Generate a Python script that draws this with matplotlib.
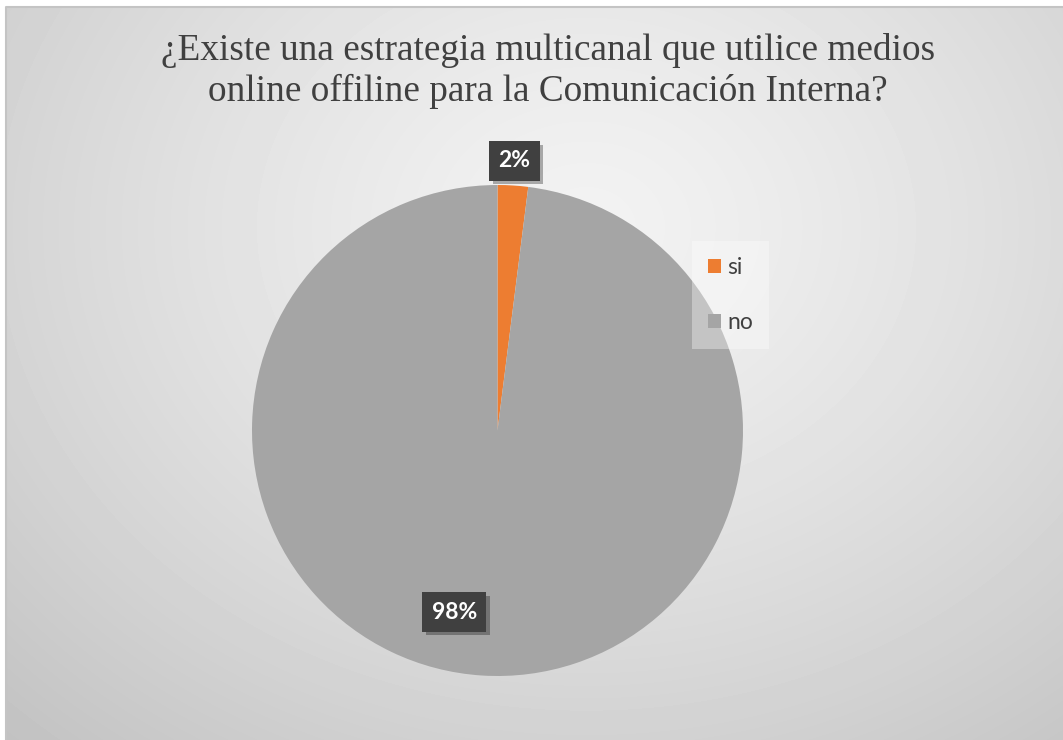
import numpy as np
import matplotlib.pyplot as plt
import matplotlib.patheffects as pe
from matplotlib.patches import Patch

# Survey answers
labels = ['si', 'no']
values = [2, 98]
colors = ['#ED7D31', '#A5A5A5']
title = '¿Existe una estrategia multicanal que utilice medios\nonline offiline para la Comunicación Interna?'

W, H = 1063, 740
fig = plt.figure(figsize=(W / 100, H / 100), dpi=100)
fig.patch.set_facecolor('white')

# Radial grey gradient behind the chart
bg = fig.add_axes([6 / W, 0, 1 - 6 / W, 1 - 7 / H])
yy, xx = np.mgrid[0:733, 0:1057]
d = np.sqrt(((xx - 580) / 780) ** 2 + ((yy - 220) / 640) ** 2)
shade = np.clip(0.95 - 0.17 * d ** 1.3, 0, 1)
bg.imshow(shade, cmap='gray', vmin=0, vmax=1, aspect='auto', interpolation='bilinear')
bg.axis('off')

# Thin frame edge
edge = fig.add_axes([0, 0, 1, 1], facecolor='none')
edge.axis('off')
edge.plot([6 / W, 6 / W, 1], [0, 1 - 7 / H, 1 - 7 / H], color='#c4c4c4', lw=1.5,
          transform=edge.transAxes)

fig.text(548 / W, 1 - 71 / H, title, ha='center', va='center', family='Liberation Serif',
         fontsize=26.8, color='#404040', linespacing=1.22)

# Pie
cx, cy, r = 497.5, 430.5, 245.5
ax = fig.add_axes([(cx - r) / W, (H - cy - r) / H, 2 * r / W, 2 * r / H])
wedges, _ = ax.pie(values, colors=colors, startangle=90, counterclock=False,
                   radius=1, wedgeprops=dict(linewidth=0))
ax.set_xlim(-1, 1)
ax.set_ylim(-1, 1)
ax.axis('off')

# Data labels: outside for the small slice, inside for the big one
label_pos = [(1.10, 0.0), (0.76, -9.8)]  # (radius, angle shift)
for w, v, (rad, shift) in zip(wedges, values, label_pos):
    ang = np.deg2rad((w.theta1 + w.theta2) / 2 + shift)
    x, y = rad * np.cos(ang), rad * np.sin(ang)
    t = ax.text(x, y, f'{v}%', ha='center', va='center', family='Lato', fontsize=16.5,
                fontweight='bold', color='white', zorder=5,
                bbox=dict(boxstyle='square,pad=0.4', fc='#404040', ec='none'))
    t.get_bbox_patch().set_path_effects(
        [pe.SimplePatchShadow(offset=(2.5, -2.5), shadow_rgbFace='black', alpha=0.3), pe.Normal()])

handles = [Patch(facecolor=c, edgecolor='none') for c in colors]
leg = fig.legend(handles, labels, loc='upper left', bbox_to_anchor=(692 / W, 1 - 241 / H),
                 borderaxespad=0, frameon=True, fancybox=False,
                 prop={'family': 'Lato', 'size': 16.5},
                 labelspacing=1.5, handlelength=0.55, handleheight=0.55, handletextpad=0.3,
                 borderpad=0.7, labelcolor='#404040')
leg.get_frame().set_facecolor('white')
leg.get_frame().set_alpha(0.35)
leg.get_frame().set_edgecolor('none')

fig.savefig('out.png', dpi=100)
